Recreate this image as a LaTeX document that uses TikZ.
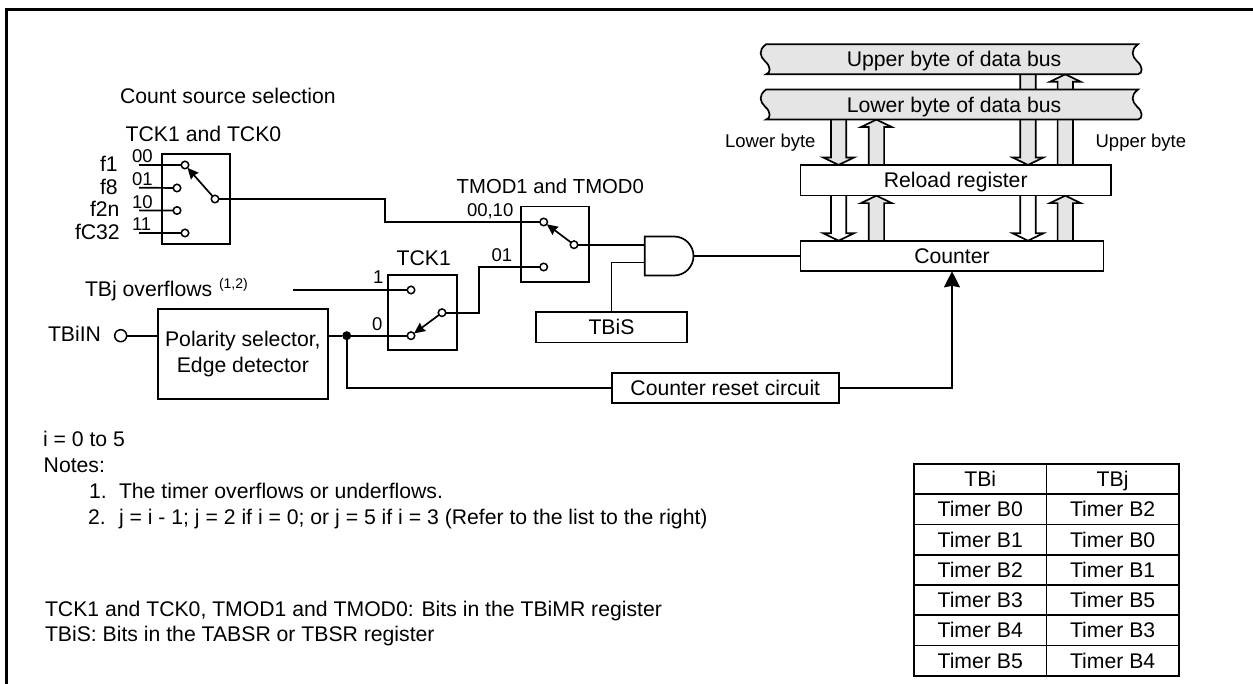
\documentclass[tikz,border=0pt]{standalone}
\usepackage{fontspec}
\usepackage{xcolor}
\setmainfont{Liberation Sans}
\usetikzlibrary{positioning, arrows.meta, calc, backgrounds, shapes.gates.logic.US}
\definecolor{busgrey}{RGB}{229,229,229}
\tikzset{
  wire/.style     ={line width=1.7pt},
  arr/.style      ={wire, -{Stealth[length=16pt, width=16pt, inset=1.5pt]}},
  swarr/.style    ={wire, -{Stealth[length=11pt, width=10pt, inset=1pt]}},
  block/.style    ={rectangle, draw, line width=1.7pt, inner sep=0pt, outer sep=0pt, align=center,
                    font=\fontsize{21.2}{26.5}\selectfont},
  flatblock/.style={block, text height=15pt, text depth=0pt},
  cell/.style     ={flatblock, minimum width=132.4pt, minimum height=30.25pt},
  contact/.style  ={circle, draw, fill=white, line width=1.5pt, inner sep=0pt, outer sep=0pt, minimum size=7.5pt},
  lbl/.style      ={font=\fontsize{21.2}{26}\selectfont, anchor=base west, inner sep=0pt, outer sep=0pt},
  smalllbl/.style ={lbl, font=\fontsize{18.5}{22}\selectfont},
  buspath/.style  ={wire, fill=busgrey},
}
\newcommand{\databus}[3]{%
  \draw[buspath, shift={(0,#2)}] (766,0) -- (1138,0)
    .. controls (1130,6) and (1132,12) .. (1137,17) .. controls (1143,22) and (1143,29) .. (1138,30)
    -- (766,30)
    .. controls (771,29) and (771,22) .. (765,17) .. controls (760,12) and (758,6) .. (766,0) -- cycle;
  \node[flatblock, draw=none, minimum height=30pt] (#1) at (954,#2+15) {#3};
}
\newcommand{\widearr}[3]{%
  \coordinate (neck) at ($(#2)!7.5pt!(#1)$);
  \path[wire, draw, fill=#3]
    ($(#1)!7.7pt!90:(#2)$) -- ($(neck)!7.7pt!90:(#2)$) -- ($(neck)!15.5pt!90:(#2)$) -- (#2) --
    ($(neck)!-15.5pt!90:(#2)$) -- ($(neck)!-7.7pt!90:(#2)$) -- ($(#1)!-7.7pt!90:(#2)$);
}
\begin{document}
\begin{tikzpicture}[x=1pt, y=-1pt]
\useasboundingbox (0,0) rectangle (1253,684);
\draw[line width=3pt] (6,684) -- (6,10) -- (1253,10);

% data buses and registers
\databus{upbus}{44.3}{Upper byte of data bus}
\databus{lowbus}{89.6}{Lower byte of data bus}
\node[flatblock, fill=white, minimum width=310.5pt, minimum height=30.7pt] (relo) at (955.75,180.3) {Reload register};
\node[flatblock, fill=white, minimum width=303pt, minimum height=30.6pt] (cntr) at (952,256) {Counter};
\coordinate (cdl) at (838.6,0);
\coordinate (cul) at (876.4,0);
\coordinate (cdr) at (1028,0);
\coordinate (cur) at (1065.3,0);
\begin{scope}[on background layer]
\widearr{cdl |- lowbus.center}{cdl |- relo.north}{busgrey}
\widearr{cul |- relo.north}{cul |- lowbus.south}{busgrey}
\widearr{cdr |- upbus.center}{cdr |- relo.north}{busgrey}
\widearr{cur |- relo.north}{cur |- upbus.south}{busgrey}
\widearr{cdl |- relo.south}{cdl |- cntr.north}{white}
\widearr{cul |- cntr.north}{cul |- relo.south}{busgrey}
\widearr{cdr |- relo.south}{cdr |- cntr.north}{white}
\widearr{cur |- cntr.north}{cur |- relo.south}{busgrey}
\end{scope}
\node[smalllbl] (lblow) at (725,147.7) {Lower byte};
\node[smalllbl] (lbup) at (1095.6,147.7) {Upper byte};

% count source switch
\node[lbl] (lbsrc) at (120,103.3) {Count source selection};
\node[lbl] (lbtck) at (125.7,141.7) {TCK1 and TCK0};
\node[block, minimum width=68.3pt, minimum height=90pt] (swa) at (195.85,199) {};
\node[contact] (a0) at (185,165) {};
\node[contact] (a1) at (177,188) {};
\node[contact] (a2) at (177,210.5) {};
\node[contact] (a3) at (185,233) {};
\node[contact] (ap) at (215,199) {};
\foreach \n/\t/\lx/\sy in {0/f1/100/00, 1/f8/100/01, 2/f2n/90/10, 3/fC32/75/11} {
  \coordinate (in\n) at (139,165+22.7*\n);
  \node[lbl] (lbf\n) at (\lx,171.7+22.6*\n) {\t};
  \node[smalllbl] (lbs\n) at (132,162.7+22.7*\n) {\sy};
  \draw[wire] (in\n) -- (a\n);
}
\draw[swarr] (ap) -- (a0);

% mode switch
\node[lbl, font=\fontsize{20.3}{26}\selectfont] (lbmod) at (456.7,194) {TMOD1 and TMOD0};
\node[block, minimum width=68pt, minimum height=75.3pt] (swm) at (555,244.3) {};
\node[contact] (m0) at (543.7,222) {};
\node[contact] (m1) at (543.7,267) {};
\node[contact] (mp) at (574,244.7) {};
\node[smalllbl] (lbm0) at (467,216.7) {00,10};
\node[smalllbl] (lbm1) at (491.5,261.7) {01};
\draw[swarr] (mp) -- (m0);
\coordinate (ka) at (385,222);
\draw[wire] (ap) -| (ka) -- (m0);

% TCK1 switch
\node[lbl] (lbck) at (396.7,265.7) {TCK1};
\node[block, minimum width=68.7pt, minimum height=75pt] (swk) at (422.3,312.5) {};
\node[contact] (k0) at (411,290) {};
\node[contact] (k1) at (411,335.7) {};
\node[contact] (kp) at (442,312.7) {};
\node[smalllbl] (lbk0) at (373,284) {1};
\node[smalllbl] (lbk1) at (372,330.7) {0};
\draw[swarr] (kp) -- (k1);
\coordinate (kb) at (479.3,267);
\draw[wire] (kp) -| (kb) -- (m1);
\coordinate (ovf) at (293,290);
\draw[wire] (ovf) -- (k0);
\node[lbl] (lbovf) at (85,296.7) {TBj overflows};
\node[lbl, font=\fontsize{14}{16}\selectfont] (lbsup) at (219,289) {(1,2)};

% input side
\node[lbl] (lbin) at (48,341.7) {TBiIN};
\node[contact, minimum size=12pt] (pin) at (120.7,335.7) {};
\node[block, minimum width=170.3pt, minimum height=90pt] (pol) at (242.85,354) {Polarity selector,\\Edge detector};
\node[circle, fill, inner sep=0pt, minimum size=9pt] (jn) at (346.7,335.7) {};
\draw[wire] (pin) -- (pin -| pol.west);
\draw[wire] (pin -| pol.east) -- (jn) -- (k1);

% gate and reset
\node[and gate US, draw, line width=1.7pt, logic gate inputs=nn, minimum width=48pt, minimum height=39pt, inner sep=0pt, outer sep=0pt] (andg) at (667.5,256) {};
\node[flatblock, minimum width=151pt, minimum height=30.7pt] (tbis) at (611.5,327.3) {TBiS};
\node[flatblock, minimum width=227.3pt, minimum height=30pt] (rst) at (725.3,388.3) {Counter reset circuit};
\draw[wire] (mp) -- (mp -| andg.input 1);
\draw[wire] (tbis.north) |- (andg.input 2);
\draw[wire] (andg.output) -- (andg.output -| cntr.west);
\draw[wire] (jn) |- (rst.west);
\draw[arr] (rst.east) -| (cntr.south);

% notes
\node[lbl] (nti) at (43,446.7) {i = 0 to 5};
\node[lbl] (ntn) at (43.7,472.7) {Notes:};
\node[lbl] (nt1) at (89,498.7) {1.};
\node[lbl] (nt1t) at (119,498.7) {The timer overflows or underflows.};
\node[lbl] (nt2) at (88,524.3) {2.};
\node[lbl] (nt2t) at (119,524.3) {j = i - 1; j = 2 if i = 0; or j = 5 if i = 3 (Refer to the list to the right)};
\node[lbl] (bta) at (45,616) {TCK1 and TCK0, TMOD1 and TMOD0: Bits in the TBiMR register};
\node[lbl] (btb) at (45,641.7) {TBiS: Bits in the TABSR or TBSR register};

% list of timers
\foreach \a/\b [count=\r from 0] in {TBi/TBj, Timer B0/Timer B2, Timer B1/Timer B0, Timer B2/Timer B1, Timer B3/Timer B5, Timer B4/Timer B3, Timer B5/Timer B4} {
  \node[cell] (ti\r) at (980.2,479.1+30.25*\r) {\a};
  \node[cell] (tj\r) at (1112.6,479.1+30.25*\r) {\b};
}
\end{tikzpicture}
\end{document}
